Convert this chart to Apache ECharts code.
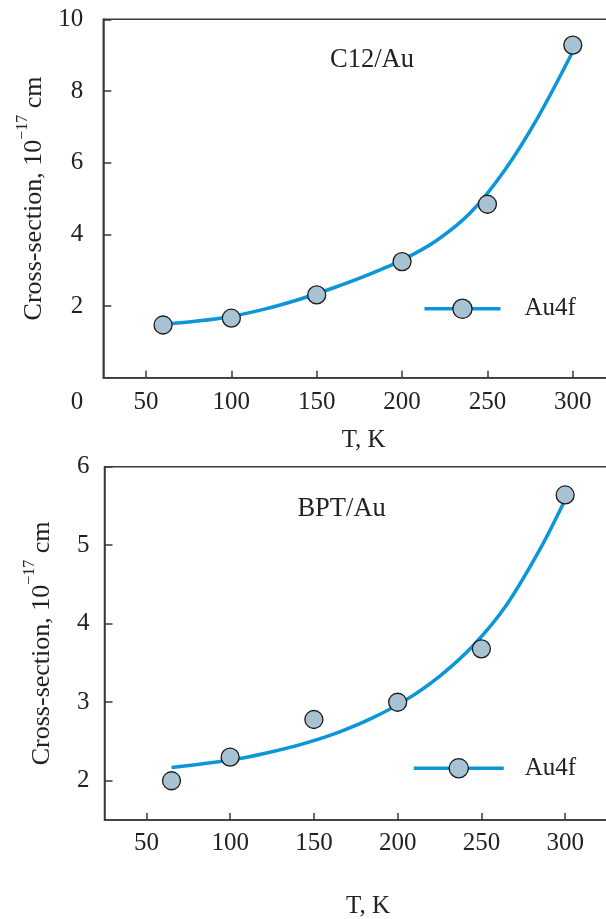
<!DOCTYPE html>
<html>
<head>
<meta charset="utf-8">
<script src="https://cdn.jsdelivr.net/npm/echarts@6/dist/echarts.min.js"></script>
<style>
  html, body { margin: 0; padding: 0; background: #fff; }
  #chart { width: 606px; height: 919px; }
</style>
</head>
<body>
<div id="chart"></div>
<script>
// Temperature ticks shared by both panels (K)
const tempTicks = [50, 100, 150, 200, 250, 300];

// C12/Au panel: measured Au4f cross-sections and the fitted curve
const c12Temps = [60, 100, 150, 200, 250, 300];
const c12Values = [1.47, 1.66, 2.31, 3.24, 4.84, 9.28];
const c12FitTemps = [60, 80, 100, 120, 140, 160, 180, 200, 220, 240, 260, 280, 300];
const c12FitValues = [1.49, 1.58, 1.71, 1.92, 2.19, 2.51, 2.87, 3.28, 3.82, 4.60, 5.78, 7.30, 9.10];
const c12YTicks = [2, 4, 6, 8, 10];

// BPT/Au panel: measured Au4f cross-sections and the fitted curve
const bptTemps = [65, 100, 150, 200, 250, 300];
const bptValues = [2.00, 2.30, 2.78, 3.00, 3.68, 5.64];
const bptFitTemps = [65, 85, 105, 125, 145, 165, 185, 205, 225, 245, 265, 285, 300];
const bptFitValues = [2.17, 2.22, 2.28, 2.37, 2.48, 2.62, 2.80, 3.03, 3.33, 3.72, 4.24, 4.95, 5.58];
const bptYTicks = [2, 3, 4, 5, 6];

const panelTitles = ['C12/Au', 'BPT/Au'];
const seriesName = 'Au4f';
const xTitle = 'T, K';
const cornerLabel = '0';

const FONT = '"Liberation Serif", "DejaVu Serif", serif';
const INK = '#222222';
const AXIS = '#3a3a3a';
const CURVE = '#0a96d8';
const DOT = '#a7c3d3';

const pairs = (xs, ys) => xs.map((x, i) => [x, ys[i]]);

const yName = '{t|Cross-section, 10}{s|\u221217}{t| cm}';
const yNameStyle = {
  fontFamily: FONT, color: INK,
  rich: {
    t: { fontFamily: FONT, fontSize: 26, color: INK },
    s: { fontFamily: FONT, fontSize: 16, color: INK, padding: [0, 0, 24, 0] }
  }
};

function xAxisFor(gridIndex, labelMargin, nameGap, namePad) {
  return {
    type: 'value', gridIndex, min: 25, max: 330,
    axisLine: { show: true, lineStyle: { color: AXIS, width: 1.5 } },
    axisTick: { show: true, inside: true, length: 7, customValues: tempTicks,
      lineStyle: { color: AXIS, width: 1.5 } },
    axisLabel: { customValues: tempTicks, margin: labelMargin,
      fontFamily: FONT, fontSize: 25, color: INK },
    splitLine: { show: false },
    name: xTitle, nameLocation: 'middle', nameGap,
    nameTextStyle: { fontFamily: FONT, fontSize: 25, color: INK, padding: namePad }
  };
}

function yAxisFor(gridIndex, min, max, ticks, labelMargin, nameGap) {
  return {
    type: 'value', gridIndex, min, max,
    axisLine: { show: true, lineStyle: { color: AXIS, width: 1.5 } },
    axisTick: { show: true, inside: true, length: 8, customValues: ticks,
      lineStyle: { color: AXIS, width: 1.5 } },
    axisLabel: { customValues: ticks, margin: labelMargin,
      fontFamily: FONT, fontSize: 25, color: INK },
    splitLine: { show: false },
    name: yName, nameLocation: 'middle', nameRotate: 90, nameGap,
    nameTextStyle: yNameStyle
  };
}

function curveSeries(idx, data) {
  return {
    name: seriesName, type: 'line', xAxisIndex: idx, yAxisIndex: idx,
    data, smooth: 0.3, showSymbol: false, symbol: 'none',
    lineStyle: { color: CURVE, width: 3.5 },
    itemStyle: { color: DOT, borderColor: '#1a1a1a', borderWidth: 1.3 },
    z: 2, silent: true
  };
}

function pointSeries(idx, data) {
  return {
    name: 'points', type: 'scatter', xAxisIndex: idx, yAxisIndex: idx,
    data, symbol: 'circle', symbolSize: 18,
    itemStyle: { color: DOT, borderColor: '#1a1a1a', borderWidth: 1.3, opacity: 1 },
    z: 3, silent: true
  };
}

function legendFor(left, top, itemWidth, textGap) {
  return {
    data: [seriesName], left, top, itemWidth, itemHeight: 24, padding: 0,
    selectedMode: false,
    itemStyle: { color: DOT, borderColor: '#1a1a1a', borderWidth: 1.3 },
    lineStyle: { color: CURVE, width: 3.5 },
    textStyle: { fontFamily: FONT, fontSize: 25, color: INK, padding: [0, 0, 0, textGap] }
  };
}

const chart = echarts.init(document.getElementById('chart'), null, { renderer: 'canvas' });

chart.setOption({
  animation: false,
  backgroundColor: '#ffffff',
  grid: [
    // plot boxes run past the right edge of the page, so only three sides show
    { left: 103.3, top: 19.3, width: 520.7, height: 358.4, show: true,
      outerBoundsMode: 'none', borderColor: AXIS, borderWidth: 1.5 },
    { left: 104.5, top: 466.7, width: 510.9, height: 353.3, show: true,
      outerBoundsMode: 'none', borderColor: AXIS, borderWidth: 1.5 }
  ],
  xAxis: [
    xAxisFor(0, 12, 50, [0, 0, 0, 0]),
    xAxisFor(1, 10.5, 74, [0, 0, 0, 16])
  ],
  yAxis: [
    yAxisFor(0, 0, 10, c12YTicks, 20, 41),
    yAxisFor(1, 1.5, 6, bptYTicks, 15, 42.5)
  ],
  legend: [
    legendFor(422.7, 296.3, 76, 19),
    legendFor(412, 755.7, 90, 16)
  ],
  series: [
    curveSeries(0, pairs(c12FitTemps, c12FitValues)),
    pointSeries(0, pairs(c12Temps, c12Values)),
    curveSeries(1, pairs(bptFitTemps, bptFitValues)),
    pointSeries(1, pairs(bptTemps, bptValues))
  ],
  graphic: [
    { type: 'text', x: 372, y: 60, style: { text: panelTitles[0], fontFamily: FONT,
      fontSize: 26.5, fill: INK, align: 'center', verticalAlign: 'middle' } },
    { type: 'text', x: 341.6, y: 509, style: { text: panelTitles[1], fontFamily: FONT,
      fontSize: 26.5, fill: INK, align: 'center', verticalAlign: 'middle' } },
    { type: 'text', x: 77, y: 402, style: { text: cornerLabel, fontFamily: FONT,
      fontSize: 25, fill: INK, align: 'center', verticalAlign: 'middle' } }
  ]
});
</script>
</body>
</html>
